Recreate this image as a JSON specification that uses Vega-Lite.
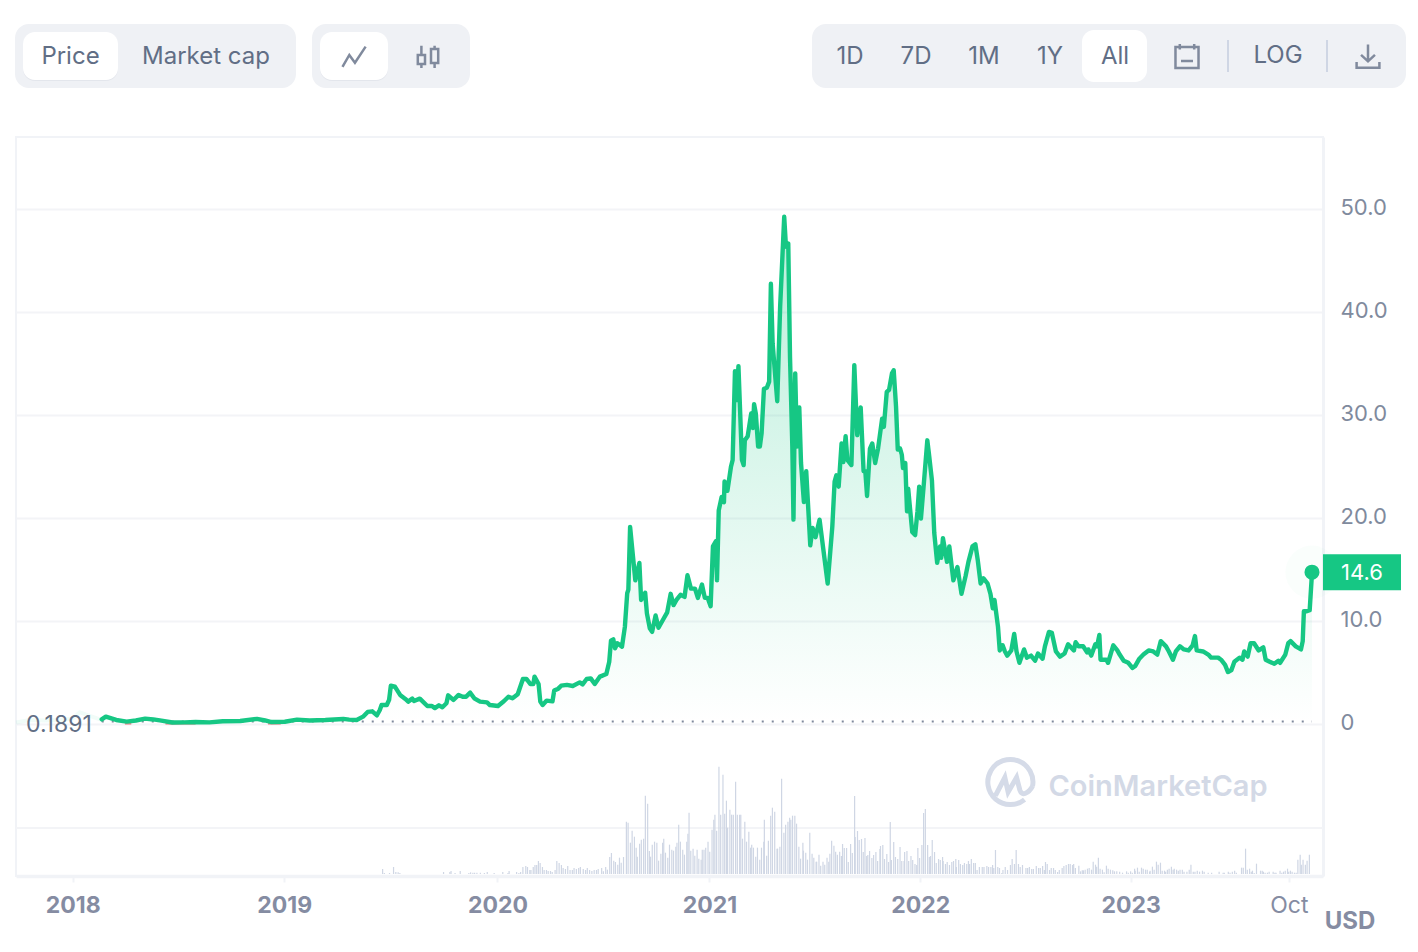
{
"$schema":"https://vega.github.io/schema/vega-lite/v6.json",
"width":1307,"height":739,
"autosize":{"type":"none"},
"padding":{"left":16,"top":137,"right":95,"bottom":76},
"background":"#ffffff",
"config":{"font":"Inter","view":{"stroke":"#F1F3F7","strokeWidth":2},
"text":{"font":"Inter","fontSize":24,"color":"#616E85","fontWeight":400,"baseline":"middle"},
"point":{"stroke":"#808A9D","strokeWidth":2.5,"filled":false,"opacity":1}},
"datasets":{
"price":[
{"date":"2018-02-20","price":0.41},{"date":"2018-02-27","price":0.67},{"date":"2018-03-17","price":0.35},{"date":"2018-04-04","price":0.19},{"date":"2018-04-20","price":0.3},{"date":"2018-05-06","price":0.48},{"date":"2018-05-20","price":0.4},{"date":"2018-06-03","price":0.28},{"date":"2018-06-22","price":0.1},{"date":"2018-07-13","price":0.12},{"date":"2018-08-01","price":0.15},{"date":"2018-08-25","price":0.12},{"date":"2018-09-17","price":0.22},{"date":"2018-10-17","price":0.25},{"date":"2018-11-15","price":0.45},{"date":"2018-11-29","price":0.3},{"date":"2018-12-10","price":0.15},{"date":"2019-01-02","price":0.18},{"date":"2019-01-23","price":0.38},{"date":"2019-02-14","price":0.3},{"date":"2019-03-13","price":0.35},{"date":"2019-04-13","price":0.45},{"date":"2019-04-23","price":0.38},{"date":"2019-05-06","price":0.35},{"date":"2019-05-17","price":0.67},{"date":"2019-05-25","price":1.13},{"date":"2019-06-02","price":1.19},{"date":"2019-06-10","price":0.8},{"date":"2019-06-15","price":1.32},{"date":"2019-06-18","price":1.8},{"date":"2019-06-27","price":1.8},{"date":"2019-07-01","price":2.3},{"date":"2019-07-04","price":3.68},{"date":"2019-07-11","price":3.58},{"date":"2019-07-20","price":2.78},{"date":"2019-07-29","price":2.39},{"date":"2019-08-03","price":2.13},{"date":"2019-08-10","price":2.42},{"date":"2019-08-13","price":2.19},{"date":"2019-08-23","price":2.42},{"date":"2019-09-05","price":1.7},{"date":"2019-09-13","price":1.7},{"date":"2019-09-18","price":1.5},{"date":"2019-09-25","price":1.77},{"date":"2019-10-01","price":1.58},{"date":"2019-10-08","price":1.97},{"date":"2019-10-11","price":2.74},{"date":"2019-10-20","price":2.29},{"date":"2019-10-29","price":2.78},{"date":"2019-11-05","price":2.61},{"date":"2019-11-11","price":2.61},{"date":"2019-11-18","price":3.0},{"date":"2019-11-25","price":2.45},{"date":"2019-12-05","price":2.13},{"date":"2019-12-17","price":2.06},{"date":"2019-12-22","price":1.8},{"date":"2020-01-05","price":1.7},{"date":"2020-01-15","price":2.16},{"date":"2020-01-23","price":2.61},{"date":"2020-01-30","price":2.45},{"date":"2020-02-08","price":2.84},{"date":"2020-02-17","price":4.33},{"date":"2020-02-23","price":4.33},{"date":"2020-03-01","price":3.84},{"date":"2020-03-06","price":3.84},{"date":"2020-03-08","price":4.56},{"date":"2020-03-15","price":3.84},{"date":"2020-03-18","price":2.13},{"date":"2020-03-22","price":1.8},{"date":"2020-03-29","price":2.23},{"date":"2020-04-08","price":2.16},{"date":"2020-04-11","price":3.2},{"date":"2020-04-18","price":3.39},{"date":"2020-04-23","price":3.68},{"date":"2020-05-03","price":3.75},{"date":"2020-05-13","price":3.65},{"date":"2020-05-25","price":4.0},{"date":"2020-05-30","price":3.81},{"date":"2020-06-06","price":4.33},{"date":"2020-06-13","price":4.39},{"date":"2020-06-20","price":3.84},{"date":"2020-06-29","price":4.56},{"date":"2020-07-10","price":4.82},{"date":"2020-07-15","price":6.0},{"date":"2020-07-18","price":8.05},{"date":"2020-07-22","price":8.18},{"date":"2020-07-25","price":7.3},{"date":"2020-07-29","price":7.8},{"date":"2020-08-06","price":7.47},{"date":"2020-08-11","price":9.4},{"date":"2020-08-15","price":12.65},{"date":"2020-08-17","price":13},{"date":"2020-08-20","price":19.1},{"date":"2020-08-25","price":16.2},{"date":"2020-08-29","price":13.9},{"date":"2020-09-05","price":15.6},{"date":"2020-09-08","price":12},{"date":"2020-09-15","price":12.7},{"date":"2020-09-18","price":10.7},{"date":"2020-09-23","price":9.25},{"date":"2020-09-27","price":8.9},{"date":"2020-10-03","price":10.5},{"date":"2020-10-08","price":9.3},{"date":"2020-10-17","price":10.2},{"date":"2020-10-23","price":10.8},{"date":"2020-10-29","price":12.6},{"date":"2020-11-03","price":11.5},{"date":"2020-11-08","price":12.0},{"date":"2020-11-15","price":12.5},{"date":"2020-11-22","price":12.3},{"date":"2020-11-27","price":14.4},{"date":"2020-12-03","price":13.1},{"date":"2020-12-10","price":13.1},{"date":"2020-12-15","price":12.2},{"date":"2020-12-22","price":13.5},{"date":"2020-12-27","price":12.2},{"date":"2021-01-01","price":12.2},{"date":"2021-01-06","price":11.4},{"date":"2021-01-10","price":17.2},{"date":"2021-01-15","price":17.7},{"date":"2021-01-17","price":13.9},{"date":"2021-01-20","price":20.7},{"date":"2021-01-25","price":22},{"date":"2021-01-29","price":21.5},{"date":"2021-01-30","price":23.5},{"date":"2021-02-04","price":22.6},{"date":"2021-02-10","price":24.9},{"date":"2021-02-13","price":25.6},{"date":"2021-02-17","price":34.2},{"date":"2021-02-20","price":31.4},{"date":"2021-02-23","price":34.7},{"date":"2021-03-01","price":25.6},{"date":"2021-03-04","price":25.1},{"date":"2021-03-06","price":27.5},{"date":"2021-03-11","price":27.9},{"date":"2021-03-17","price":30.1},{"date":"2021-03-20","price":28.7},{"date":"2021-03-22","price":31},{"date":"2021-03-25","price":30.1},{"date":"2021-03-29","price":26.9},{"date":"2021-04-01","price":26.9},{"date":"2021-04-04","price":28.2},{"date":"2021-04-08","price":32.5},{"date":"2021-04-13","price":32.6},{"date":"2021-04-17","price":33.2},{"date":"2021-04-20","price":42.7},{"date":"2021-04-23","price":36.9},{"date":"2021-05-01","price":31.3},{"date":"2021-05-06","price":40.5},{"date":"2021-05-13","price":49.2},{"date":"2021-05-16","price":46.3},{"date":"2021-05-20","price":46.6},{"date":"2021-05-23","price":35.6},{"date":"2021-05-27","price":26.9},{"date":"2021-05-29","price":19.8},{"date":"2021-06-01","price":34},{"date":"2021-06-04","price":26.9},{"date":"2021-06-08","price":30.7},{"date":"2021-06-11","price":25.3},{"date":"2021-06-16","price":21.5},{"date":"2021-06-20","price":24.5},{"date":"2021-06-23","price":21.4},{"date":"2021-06-27","price":17.3},{"date":"2021-07-01","price":19},{"date":"2021-07-06","price":18.1},{"date":"2021-07-13","price":19.8},{"date":"2021-07-27","price":13.6},{"date":"2021-08-04","price":19.1},{"date":"2021-08-08","price":23.5},{"date":"2021-08-11","price":24.1},{"date":"2021-08-15","price":23},{"date":"2021-08-20","price":27.2},{"date":"2021-08-23","price":25.4},{"date":"2021-08-27","price":27.9},{"date":"2021-08-30","price":25.6},{"date":"2021-09-06","price":25.1},{"date":"2021-09-11","price":34.8},{"date":"2021-09-16","price":28},{"date":"2021-09-22","price":30.7},{"date":"2021-09-27","price":24.5},{"date":"2021-09-30","price":24.5},{"date":"2021-10-03","price":22.1},{"date":"2021-10-08","price":26.7},{"date":"2021-10-12","price":27.2},{"date":"2021-10-17","price":25.3},{"date":"2021-10-22","price":26.7},{"date":"2021-10-29","price":29.6},{"date":"2021-11-01","price":28.8},{"date":"2021-11-06","price":32.2},{"date":"2021-11-10","price":32.4},{"date":"2021-11-15","price":34},{"date":"2021-11-18","price":34.3},{"date":"2021-11-22","price":30.8},{"date":"2021-11-25","price":26.6},{"date":"2021-11-29","price":26.7},{"date":"2021-12-02","price":26.1},{"date":"2021-12-04","price":24.8},{"date":"2021-12-08","price":25.3},{"date":"2021-12-11","price":20.6},{"date":"2021-12-13","price":22.8},{"date":"2021-12-20","price":18.6},{"date":"2021-12-25","price":18.3},{"date":"2021-12-29","price":20.6},{"date":"2022-01-01","price":23},{"date":"2022-01-04","price":19.9},{"date":"2022-01-09","price":23.3},{"date":"2022-01-15","price":27.5},{"date":"2022-01-18","price":26.1},{"date":"2022-01-23","price":23.6},{"date":"2022-01-27","price":18.5},{"date":"2022-02-01","price":15.6},{"date":"2022-02-06","price":17.2},{"date":"2022-02-08","price":16.1},{"date":"2022-02-11","price":18},{"date":"2022-02-18","price":15.7},{"date":"2022-02-22","price":17.2},{"date":"2022-03-01","price":13.9},{"date":"2022-03-08","price":15.2},{"date":"2022-03-15","price":12.6},{"date":"2022-03-22","price":14.3},{"date":"2022-03-27","price":15.7},{"date":"2022-04-03","price":17.2},{"date":"2022-04-08","price":17.4},{"date":"2022-04-12","price":15.9},{"date":"2022-04-17","price":13.6},{"date":"2022-04-22","price":14.1},{"date":"2022-04-29","price":13.6},{"date":"2022-05-04","price":12.6},{"date":"2022-05-08","price":11.2},{"date":"2022-05-11","price":12},{"date":"2022-05-17","price":9.4},{"date":"2022-05-20","price":7.1},{"date":"2022-05-25","price":7.6},{"date":"2022-05-29","price":7},{"date":"2022-06-02","price":6.6},{"date":"2022-06-09","price":7.1},{"date":"2022-06-14","price":8.7},{"date":"2022-06-18","price":7},{"date":"2022-06-23","price":5.9},{"date":"2022-07-01","price":7.2},{"date":"2022-07-06","price":6.4},{"date":"2022-07-13","price":6.6},{"date":"2022-07-20","price":6.1},{"date":"2022-07-25","price":6.8},{"date":"2022-08-02","price":6.3},{"date":"2022-08-06","price":7.5},{"date":"2022-08-13","price":8.9},{"date":"2022-08-18","price":8.8},{"date":"2022-08-25","price":7},{"date":"2022-09-01","price":6.5},{"date":"2022-09-09","price":6.8},{"date":"2022-09-15","price":7.7},{"date":"2022-09-25","price":7.1},{"date":"2022-09-28","price":7.9},{"date":"2022-10-03","price":7.5},{"date":"2022-10-11","price":7.5},{"date":"2022-10-18","price":6.9},{"date":"2022-10-20","price":7.2},{"date":"2022-10-25","price":6.6},{"date":"2022-11-01","price":7.7},{"date":"2022-11-04","price":7.5},{"date":"2022-11-08","price":8.6},{"date":"2022-11-10","price":6.2},{"date":"2022-11-20","price":6.2},{"date":"2022-11-23","price":5.9},{"date":"2022-12-02","price":7.6},{"date":"2022-12-09","price":7.1},{"date":"2022-12-13","price":6.7},{"date":"2022-12-20","price":6.1},{"date":"2022-12-28","price":5.9},{"date":"2023-01-04","price":5.4},{"date":"2023-01-09","price":5.6},{"date":"2023-01-16","price":6.3},{"date":"2023-01-23","price":6.7},{"date":"2023-02-01","price":7.1},{"date":"2023-02-09","price":7},{"date":"2023-02-16","price":6.7},{"date":"2023-02-22","price":8},{"date":"2023-03-03","price":7.5},{"date":"2023-03-08","price":7},{"date":"2023-03-15","price":6.2},{"date":"2023-03-20","price":7},{"date":"2023-03-27","price":7.5},{"date":"2023-04-03","price":7.2},{"date":"2023-04-11","price":7.1},{"date":"2023-04-18","price":7.6},{"date":"2023-04-22","price":8.5},{"date":"2023-04-25","price":7.1},{"date":"2023-05-06","price":7},{"date":"2023-05-15","price":6.7},{"date":"2023-05-20","price":6.4},{"date":"2023-06-01","price":6.4},{"date":"2023-06-06","price":6.2},{"date":"2023-06-13","price":5.7},{"date":"2023-06-18","price":5},{"date":"2023-06-24","price":5.2},{"date":"2023-06-29","price":6},{"date":"2023-07-08","price":6.4},{"date":"2023-07-13","price":6.2},{"date":"2023-07-16","price":7},{"date":"2023-07-22","price":6.5},{"date":"2023-07-27","price":7.8},{"date":"2023-08-02","price":7.8},{"date":"2023-08-10","price":7.1},{"date":"2023-08-18","price":7.4},{"date":"2023-08-22","price":6.2},{"date":"2023-08-29","price":6},{"date":"2023-09-06","price":5.8},{"date":"2023-09-13","price":6.1},{"date":"2023-09-16","price":5.9},{"date":"2023-09-25","price":6.7},{"date":"2023-09-30","price":7.8},{"date":"2023-10-04","price":8},{"date":"2023-10-13","price":7.5},{"date":"2023-10-22","price":7.2},{"date":"2023-10-25","price":8},{"date":"2023-10-27","price":10.9},{"date":"2023-11-01","price":10.9},{"date":"2023-11-06","price":11},{"date":"2023-11-10","price":14.6}],
"volume":[
{"date":"2019-06-16","volume":0.15},{"date":"2019-06-19","volume":0.03},{"date":"2019-06-28","volume":0.03},{"date":"2019-07-05","volume":0.21},{"date":"2019-07-09","volume":0.06},{"date":"2019-07-13","volume":0.05},{"date":"2019-07-16","volume":0.03},{"date":"2019-09-30","volume":0.06},{"date":"2019-10-11","volume":0.06},{"date":"2019-10-13","volume":0.09},{"date":"2019-10-20","volume":0.03},{"date":"2019-10-29","volume":0.09},{"date":"2019-11-13","volume":0.03},{"date":"2019-11-16","volume":0.05},{"date":"2019-11-20","volume":0.04},{"date":"2019-11-23","volume":0.04},{"date":"2019-11-27","volume":0.04},{"date":"2019-12-03","volume":0.04},{"date":"2019-12-10","volume":0.03},{"date":"2019-12-15","volume":0.06},{"date":"2019-12-27","volume":0.03},{"date":"2020-01-11","volume":0.06},{"date":"2020-01-20","volume":0.03},{"date":"2020-01-22","volume":0.09},{"date":"2020-02-04","volume":0.06},{"date":"2020-02-08","volume":0.03},{"date":"2020-02-11","volume":0.06},{"date":"2020-02-15","volume":0.21},{"date":"2020-02-20","volume":0.24},{"date":"2020-02-23","volume":0.21},{"date":"2020-02-27","volume":0.12},{"date":"2020-02-29","volume":0.12},{"date":"2020-03-04","volume":0.21},{"date":"2020-03-07","volume":0.27},{"date":"2020-03-10","volume":0.27},{"date":"2020-03-13","volume":0.39},{"date":"2020-03-16","volume":0.33},{"date":"2020-03-20","volume":0.21},{"date":"2020-03-23","volume":0.12},{"date":"2020-03-27","volume":0.12},{"date":"2020-03-30","volume":0.09},{"date":"2020-04-03","volume":0.09},{"date":"2020-04-06","volume":0.06},{"date":"2020-04-11","volume":0.12},{"date":"2020-04-14","volume":0.39},{"date":"2020-04-18","volume":0.33},{"date":"2020-04-22","volume":0.27},{"date":"2020-04-25","volume":0.18},{"date":"2020-04-29","volume":0.15},{"date":"2020-05-03","volume":0.24},{"date":"2020-05-07","volume":0.12},{"date":"2020-05-11","volume":0.12},{"date":"2020-05-14","volume":0.18},{"date":"2020-05-18","volume":0.15},{"date":"2020-05-22","volume":0.18},{"date":"2020-05-25","volume":0.21},{"date":"2020-05-30","volume":0.15},{"date":"2020-06-03","volume":0.12},{"date":"2020-06-06","volume":0.18},{"date":"2020-06-10","volume":0.12},{"date":"2020-06-14","volume":0.09},{"date":"2020-06-18","volume":0.12},{"date":"2020-06-22","volume":0.12},{"date":"2020-06-25","volume":0.15},
{"date":"2020-07-01","volume":0.18},{"date":"2020-07-04","volume":0.08},{"date":"2020-07-08","volume":0.21},{"date":"2020-07-11","volume":0.13},{"date":"2020-07-15","volume":0.51},{"date":"2020-07-18","volume":0.63},{"date":"2020-07-22","volume":0.4},{"date":"2020-07-25","volume":0.36},{"date":"2020-07-29","volume":0.28},
{"date":"2020-08-01","volume":0.49},{"date":"2020-08-04","volume":0.34},{"date":"2020-08-08","volume":0.51},{"date":"2020-08-13","volume":1.57},{"date":"2020-08-16","volume":1.54},{"date":"2020-08-20","volume":0.94},{"date":"2020-08-23","volume":1.3},{"date":"2020-08-27","volume":1.12},{"date":"2020-08-30","volume":0.79},
{"date":"2020-09-01","volume":0.52},{"date":"2020-09-05","volume":0.91},{"date":"2020-09-08","volume":1.03},{"date":"2020-09-12","volume":1.06},{"date":"2020-09-15","volume":2.35},{"date":"2020-09-19","volume":2.11},{"date":"2020-09-22","volume":0.69},{"date":"2020-09-24","volume":0.52},{"date":"2020-09-27","volume":0.88},
{"date":"2020-10-01","volume":0.97},{"date":"2020-10-05","volume":0.94},{"date":"2020-10-08","volume":0.4},{"date":"2020-10-12","volume":0.61},{"date":"2020-10-15","volume":0.94},{"date":"2020-10-17","volume":1.06},{"date":"2020-10-20","volume":0.64},{"date":"2020-10-24","volume":0.49},{"date":"2020-10-27","volume":0.88},{"date":"2020-10-31","volume":0.73},
{"date":"2020-11-03","volume":0.7},{"date":"2020-11-07","volume":0.82},{"date":"2020-11-09","volume":0.94},{"date":"2020-11-12","volume":1.48},{"date":"2020-11-15","volume":0.97},{"date":"2020-11-19","volume":0.73},{"date":"2020-11-22","volume":0.58},{"date":"2020-11-26","volume":0.97},{"date":"2020-11-28","volume":1.21},{"date":"2020-11-30","volume":1.84},
{"date":"2020-12-03","volume":0.7},{"date":"2020-12-07","volume":0.76},{"date":"2020-12-10","volume":0.55},{"date":"2020-12-14","volume":0.73},{"date":"2020-12-17","volume":0.46},{"date":"2020-12-21","volume":0.43},{"date":"2020-12-23","volume":0.73},{"date":"2020-12-26","volume":0.73},{"date":"2020-12-29","volume":0.79},
{"date":"2021-01-02","volume":0.97},{"date":"2021-01-05","volume":0.67},{"date":"2021-01-09","volume":1.33},{"date":"2021-01-12","volume":1.63},{"date":"2021-01-14","volume":1.78},{"date":"2021-01-17","volume":1.3},{"date":"2021-01-21","volume":3.22},{"date":"2021-01-24","volume":1.78},{"date":"2021-01-28","volume":2.98},{"date":"2021-01-31","volume":1.81},
{"date":"2021-02-03","volume":2.2},{"date":"2021-02-05","volume":1.39},{"date":"2021-02-09","volume":1.93},{"date":"2021-02-12","volume":1.78},{"date":"2021-02-15","volume":1.78},{"date":"2021-02-19","volume":2.77},{"date":"2021-02-22","volume":1.78},{"date":"2021-02-26","volume":1.78},{"date":"2021-02-28","volume":1.78},
{"date":"2021-03-03","volume":1.06},{"date":"2021-03-07","volume":1.57},{"date":"2021-03-10","volume":0.97},{"date":"2021-03-14","volume":1.27},{"date":"2021-03-17","volume":0.79},{"date":"2021-03-19","volume":0.88},{"date":"2021-03-22","volume":0.79},{"date":"2021-03-26","volume":0.52},{"date":"2021-03-29","volume":0.79},
{"date":"2021-04-02","volume":0.43},{"date":"2021-04-05","volume":0.79},{"date":"2021-04-09","volume":0.97},{"date":"2021-04-10","volume":1.63},{"date":"2021-04-14","volume":0.55},{"date":"2021-04-17","volume":1.0},{"date":"2021-04-21","volume":1.75},{"date":"2021-04-24","volume":1.99},{"date":"2021-04-28","volume":1.87},
{"date":"2021-05-02","volume":0.76},{"date":"2021-05-03","volume":0.76},{"date":"2021-05-07","volume":0.82},{"date":"2021-05-10","volume":2.86},{"date":"2021-05-14","volume":1.24},{"date":"2021-05-17","volume":1.48},{"date":"2021-05-21","volume":1.57},{"date":"2021-05-24","volume":1.69},{"date":"2021-05-26","volume":1.63},{"date":"2021-05-29","volume":1.75},
{"date":"2021-06-02","volume":1.75},{"date":"2021-06-05","volume":1.51},{"date":"2021-06-09","volume":0.82},{"date":"2021-06-12","volume":0.46},{"date":"2021-06-16","volume":0.94},{"date":"2021-06-17","volume":0.7},{"date":"2021-06-21","volume":0.64},{"date":"2021-06-24","volume":0.43},{"date":"2021-06-28","volume":1.24},
{"date":"2021-07-02","volume":0.61},{"date":"2021-07-05","volume":0.49},{"date":"2021-07-09","volume":0.37},{"date":"2021-07-10","volume":0.37},{"date":"2021-07-14","volume":0.58},{"date":"2021-07-17","volume":0.25},{"date":"2021-07-21","volume":0.37},{"date":"2021-07-24","volume":0.28},{"date":"2021-07-28","volume":0.49},{"date":"2021-07-31","volume":0.37},
{"date":"2021-08-02","volume":0.61},{"date":"2021-08-05","volume":1.0},{"date":"2021-08-09","volume":0.85},{"date":"2021-08-12","volume":0.67},{"date":"2021-08-15","volume":0.58},{"date":"2021-08-19","volume":0.67},{"date":"2021-08-22","volume":0.54},{"date":"2021-08-24","volume":0.9},{"date":"2021-08-27","volume":0.78},{"date":"2021-08-31","volume":0.78},
{"date":"2021-09-03","volume":0.36},{"date":"2021-09-07","volume":0.9},{"date":"2021-09-10","volume":0.63},{"date":"2021-09-14","volume":2.34},{"date":"2021-09-15","volume":1.11},{"date":"2021-09-19","volume":1.29},{"date":"2021-09-22","volume":1.02},{"date":"2021-09-26","volume":1.05},{"date":"2021-09-29","volume":0.66},
{"date":"2021-10-02","volume":1.08},{"date":"2021-10-05","volume":0.54},{"date":"2021-10-07","volume":0.57},{"date":"2021-10-10","volume":0.69},{"date":"2021-10-14","volume":0.48},{"date":"2021-10-17","volume":0.57},{"date":"2021-10-21","volume":0.66},{"date":"2021-10-24","volume":0.39},{"date":"2021-10-28","volume":0.75},{"date":"2021-10-29","volume":0.84},
{"date":"2021-11-02","volume":0.87},{"date":"2021-11-05","volume":0.45},{"date":"2021-11-09","volume":0.6},{"date":"2021-11-12","volume":0.36},{"date":"2021-11-15","volume":1.56},{"date":"2021-11-17","volume":0.42},{"date":"2021-11-21","volume":0.96},{"date":"2021-11-24","volume":0.51},{"date":"2021-11-28","volume":0.45},
{"date":"2021-12-02","volume":0.81},{"date":"2021-12-05","volume":0.39},{"date":"2021-12-09","volume":0.39},{"date":"2021-12-10","volume":0.66},{"date":"2021-12-14","volume":0.69},{"date":"2021-12-17","volume":0.39},{"date":"2021-12-21","volume":0.54},{"date":"2021-12-24","volume":0.42},{"date":"2021-12-28","volume":0.3},{"date":"2021-12-31","volume":0.27},
{"date":"2022-01-02","volume":0.78},{"date":"2022-01-05","volume":0.48},{"date":"2022-01-09","volume":0.87},{"date":"2022-01-12","volume":1.83},{"date":"2022-01-15","volume":1.95},{"date":"2022-01-19","volume":0.87},{"date":"2022-01-22","volume":0.51},{"date":"2022-01-24","volume":0.54},{"date":"2022-01-27","volume":1.02},{"date":"2022-01-31","volume":0.66},
{"date":"2022-02-03","volume":0.33},{"date":"2022-02-07","volume":0.45},{"date":"2022-02-10","volume":0.42},{"date":"2022-02-14","volume":0.51},{"date":"2022-02-15","volume":0.39},{"date":"2022-02-19","volume":0.3},{"date":"2022-02-22","volume":0.36},{"date":"2022-02-26","volume":0.27},
{"date":"2022-03-02","volume":0.36},{"date":"2022-03-05","volume":0.39},{"date":"2022-03-09","volume":0.45},{"date":"2022-03-10","volume":0.21},{"date":"2022-03-14","volume":0.42},{"date":"2022-03-17","volume":0.3},{"date":"2022-03-21","volume":0.27},{"date":"2022-03-24","volume":0.33},{"date":"2022-03-28","volume":0.3},{"date":"2022-03-31","volume":0.39},
{"date":"2022-04-02","volume":0.3},{"date":"2022-04-05","volume":0.45},{"date":"2022-04-09","volume":0.33},{"date":"2022-04-12","volume":0.33},{"date":"2022-04-15","volume":0.12},{"date":"2022-04-19","volume":0.21},{"date":"2022-04-24","volume":0.21},{"date":"2022-04-27","volume":0.21},
{"date":"2022-05-02","volume":0.24},{"date":"2022-05-05","volume":0.21},{"date":"2022-05-09","volume":0.21},{"date":"2022-05-12","volume":0.27},{"date":"2022-05-14","volume":0.18},{"date":"2022-05-17","volume":0.72},{"date":"2022-05-21","volume":0.21},{"date":"2022-05-24","volume":0.18},{"date":"2022-05-28","volume":0.03},{"date":"2022-05-30","volume":0.12},
{"date":"2022-06-03","volume":0.21},{"date":"2022-06-07","volume":0.12},{"date":"2022-06-12","volume":0.27},{"date":"2022-06-15","volume":0.45},{"date":"2022-06-19","volume":0.3},{"date":"2022-06-22","volume":0.72},{"date":"2022-06-26","volume":0.3},{"date":"2022-06-29","volume":0.21},
{"date":"2022-07-03","volume":0.27},{"date":"2022-07-09","volume":0.18},{"date":"2022-07-12","volume":0.18},{"date":"2022-07-15","volume":0.21},{"date":"2022-07-19","volume":0.15},{"date":"2022-07-22","volume":0.15},{"date":"2022-07-27","volume":0.24},{"date":"2022-07-31","volume":0.18},
{"date":"2022-08-03","volume":0.18},{"date":"2022-08-07","volume":0.24},{"date":"2022-08-10","volume":0.12},{"date":"2022-08-12","volume":0.36},{"date":"2022-08-15","volume":0.3},{"date":"2022-08-19","volume":0.12},{"date":"2022-08-22","volume":0.18},{"date":"2022-08-26","volume":0.18},{"date":"2022-08-29","volume":0.12},
{"date":"2022-09-02","volume":0.06},{"date":"2022-09-05","volume":0.12},{"date":"2022-09-10","volume":0.18},{"date":"2022-09-13","volume":0.24},{"date":"2022-09-17","volume":0.27},{"date":"2022-09-21","volume":0.3},{"date":"2022-09-24","volume":0.3},{"date":"2022-09-28","volume":0.27},{"date":"2022-09-30","volume":0.3},
{"date":"2022-10-03","volume":0.18},{"date":"2022-10-09","volume":0.25},{"date":"2022-10-12","volume":0.08},{"date":"2022-10-15","volume":0.11},{"date":"2022-10-17","volume":0.11},{"date":"2022-10-20","volume":0.13},{"date":"2022-10-24","volume":0.16},{"date":"2022-10-27","volume":0.18},{"date":"2022-10-31","volume":0.13},
{"date":"2022-11-03","volume":0.37},{"date":"2022-11-07","volume":0.28},{"date":"2022-11-09","volume":0.22},{"date":"2022-11-12","volume":0.49},{"date":"2022-11-15","volume":0.16},{"date":"2022-11-19","volume":0.13},{"date":"2022-11-22","volume":0.05},{"date":"2022-11-26","volume":0.25},{"date":"2022-11-29","volume":0.16},
{"date":"2022-12-03","volume":0.13},{"date":"2022-12-07","volume":0.11},{"date":"2022-12-10","volume":0.08},{"date":"2022-12-14","volume":0.08},{"date":"2022-12-19","volume":0.07},{"date":"2022-12-24","volume":0.04},{"date":"2022-12-31","volume":0.08},
{"date":"2023-01-03","volume":0.04},{"date":"2023-01-07","volume":0.08},{"date":"2023-01-10","volume":0.04},{"date":"2023-01-14","volume":0.16},{"date":"2023-01-15","volume":0.1},{"date":"2023-01-19","volume":0.19},{"date":"2023-01-22","volume":0.07},{"date":"2023-01-26","volume":0.19},{"date":"2023-01-29","volume":0.16},
{"date":"2023-02-02","volume":0.13},{"date":"2023-02-05","volume":0.13},{"date":"2023-02-09","volume":0.07},{"date":"2023-02-10","volume":0.1},{"date":"2023-02-14","volume":0.22},{"date":"2023-02-17","volume":0.13},{"date":"2023-02-21","volume":0.37},{"date":"2023-02-24","volume":0.28},{"date":"2023-02-28","volume":0.34},
{"date":"2023-03-03","volume":0.1},{"date":"2023-03-07","volume":0.1},{"date":"2023-03-09","volume":0.07},{"date":"2023-03-12","volume":0.13},{"date":"2023-03-15","volume":0.16},{"date":"2023-03-19","volume":0.22},{"date":"2023-03-22","volume":0.13},{"date":"2023-03-24","volume":0.16},{"date":"2023-03-28","volume":0.13},{"date":"2023-03-31","volume":0.1},
{"date":"2023-04-03","volume":0.13},{"date":"2023-04-07","volume":0.13},{"date":"2023-04-10","volume":0.07},{"date":"2023-04-15","volume":0.07},{"date":"2023-04-19","volume":0.13},{"date":"2023-04-22","volume":0.28},{"date":"2023-04-26","volume":0.07},{"date":"2023-04-29","volume":0.07},
{"date":"2023-05-03","volume":0.1},{"date":"2023-05-07","volume":0.07},{"date":"2023-05-12","volume":0.1},{"date":"2023-05-15","volume":0.07},{"date":"2023-05-22","volume":0.04},{"date":"2023-05-28","volume":0.04},
{"date":"2023-06-10","volume":0.07},{"date":"2023-06-17","volume":0.04},{"date":"2023-06-19","volume":0.04},{"date":"2023-06-26","volume":0.07},{"date":"2023-06-29","volume":0.04},
{"date":"2023-07-03","volume":0.07},{"date":"2023-07-07","volume":0.1},{"date":"2023-07-10","volume":0.04},{"date":"2023-07-19","volume":0.19},{"date":"2023-07-22","volume":0.19},{"date":"2023-07-26","volume":0.76},{"date":"2023-07-29","volume":0.13},
{"date":"2023-08-02","volume":0.16},{"date":"2023-08-05","volume":0.07},{"date":"2023-08-07","volume":0.1},{"date":"2023-08-10","volume":0.03},{"date":"2023-08-14","volume":0.31},{"date":"2023-08-21","volume":0.1},{"date":"2023-08-24","volume":0.1},{"date":"2023-08-26","volume":0.07},{"date":"2023-08-29","volume":0.04},
{"date":"2023-09-02","volume":0.04},{"date":"2023-09-05","volume":0.07},{"date":"2023-09-12","volume":0.07},{"date":"2023-09-15","volume":0.04},{"date":"2023-09-17","volume":0.04},{"date":"2023-09-24","volume":0.1},{"date":"2023-09-27","volume":0.04},{"date":"2023-09-30","volume":0.07},
{"date":"2023-10-03","volume":0.1},{"date":"2023-10-07","volume":0.16},{"date":"2023-10-09","volume":0.07},{"date":"2023-10-12","volume":0.1},{"date":"2023-10-15","volume":0.07},{"date":"2023-10-19","volume":0.04},{"date":"2023-10-22","volume":0.04},{"date":"2023-10-25","volume":0.43},{"date":"2023-10-29","volume":0.58},{"date":"2023-10-31","volume":0.28},
{"date":"2023-11-03","volume":0.43},{"date":"2023-11-07","volume":0.28},{"date":"2023-11-10","volume":0.4},{"date":"2023-11-14","volume":0.58}]
},
"layer":[
{"data":{"name":"volume"},
"encoding":{
"x":{"field":"date","type":"temporal","scale":{"domain":["2017-09-25","2023-11-29"],"nice":false},"axis":null},
"y":{"field":"volume","type":"quantitative","scale":{"domain":[0,3.3],"range":[737,627],"nice":false,"zero":false},"axis":null}},
"layer":[
{"data":{"values":[{"volume":1.38}]},"mark":{"type":"rule","color":"#F3F4F7","strokeWidth":2},"encoding":{"x":{"value":0},"x2":{"value":1307}}},
{"mark":{"type":"bar","width":1.2,"color":"#CFD6E4"}}
]},
{"data":{"name":"price"},
"encoding":{
"x":{"field":"date","type":"temporal","title":null,"scale":{"domain":["2017-09-25","2023-11-29"],"nice":false},
"axis":{"values":["2018-01-01","2019-01-01","2020-01-04","2021-01-04","2022-01-03","2023-01-01","2023-10-01"],
"labelExpr":"utcmonth(datum.value)==9 ? 'Oct' : ''+utcyear(datum.value)","grid":false,"title":null,
"domainColor":"#F1F3F7","domainWidth":3.5,"tickColor":"#F1F3F7","tickWidth":2,"tickSize":6,
"labelFont":"Inter","labelFontSize":23,"labelColor":"#858CA2","labelPadding":12,"labelFlush":false,"labelOverlap":false,
"labelFontWeight":{"condition":{"test":"utcmonth(datum.value)==9","value":400},"value":700}}},
"y":{"field":"price","type":"quantitative","title":null,"scale":{"domain":[-14.8,56.95],"nice":false,"zero":false},
"axis":{"orient":"right","values":[0,10,20,30,40,50],"labelExpr":"datum.value==0 ? '0' : format(datum.value,'.1f')","grid":true,"gridColor":"#F3F4F7","gridWidth":2,
"domain":true,"domainColor":"#F1F3F7","domainWidth":3,"ticks":false,"title":null,
"labelFont":"Inter","labelFontSize":22,"labelColor":"#808A9D","labelPadding":17,"labelAlign":"left","labelOffset":-1}}},
"layer":[
{"data":{"values":[{"date":"2017-09-25","price":0.1},{"date":"2017-10-19","price":0.35},{"date":"2017-11-15","price":0.3},{"date":"2017-12-11","price":0.35},{"date":"2018-01-01","price":0.5},{"date":"2018-01-13","price":1.1},{"date":"2018-01-23","price":0.9},{"date":"2018-02-02","price":0.7},{"date":"2018-02-17","price":0.4}]},
"mark":{"type":"line","color":"#16C784","strokeWidth":4,"opacity":0.06}},
{"mark":{"type":"area","line":false,"color":{"gradient":"linear","x1":0,"y1":0,"x2":0,"y2":1,"stops":[{"offset":0,"color":"rgba(22,199,132,0.3)"},{"offset":1,"color":"rgba(22,199,132,0)"}]}},
"encoding":{"y2":{"datum":0.1891}}},
{"data":{"values":[{"start":"2018-02-20","end":"2023-11-10","price":0.1891}]},
"mark":{"type":"rule","color":"#808A9D","strokeWidth":2,"strokeDash":[2,8]},
"encoding":{"x":{"field":"start","type":"temporal"},"x2":{"field":"end"}}},
{"data":{"values":[{"date":"2018-04-01","price":0.02,"stretch":"a"},{"date":"2018-04-12","price":0.02,"stretch":"a"},{"date":"2018-06-10","price":0.02,"stretch":"b"},{"date":"2018-08-01","price":0.02,"stretch":"b"},{"date":"2018-12-04","price":0.02,"stretch":"c"},{"date":"2018-12-26","price":0.02,"stretch":"c"}]},
"mark":{"type":"line","color":"#EA3943","strokeWidth":2.5,"opacity":0.6},"encoding":{"detail":{"field":"stretch"}}},
{"mark":{"type":"line","color":"#16C784","strokeWidth":4.4,"strokeJoin":"round","strokeCap":"round"}},
{"data":{"values":[{"date":"2018-02-20","price":0.1891}]},
"mark":{"type":"text","align":"right","dx":-10,"dy":3,"fontSize":23,"color":"#616E85"},
"encoding":{"text":{"field":"price","type":"quantitative","format":".4f"}}},
{"data":{"values":[{"date":"2023-11-10","price":14.6}]},
"layer":[
{"mark":{"type":"point","filled":true,"stroke":null,"fill":"#16C784","size":2827,"opacity":0.025,"shape":"circle","yOffset":-1}},
{"mark":{"type":"point","filled":true,"stroke":null,"fill":"#16C784","size":227,"opacity":1,"shape":"circle","yOffset":-1}},
{"mark":{"type":"rect","width":78,"height":36,"xOffset":50,"yOffset":-1,"color":"#16C784"}},
{"mark":{"type":"text","xOffset":50,"fontSize":22,"color":"#ffffff"},"encoding":{"text":{"field":"price","type":"quantitative","format":".1f"}}}
]}
]},
{"data":{"values":[{"panel":"toolbar"}]},
"layer":[
{"mark":{"type":"rect","width":281,"height":64,"cornerRadius":14,"color":"#EFF1F5"},"encoding":{
"x":{"datum":155.5,"axis":null,"scale":{"domain":[0,1418],"range":[-16,1402],"nice":false,"zero":false}},
"y":{"datum":56,"axis":null,"scale":{"domain":[0,952],"range":[-137,815],"nice":false,"zero":false}}}},
{"mark":{"type":"rect","width":158,"height":64,"cornerRadius":14,"color":"#EFF1F5"},"encoding":{"x":{"datum":391,"axis":null},"y":{"datum":56,"axis":null}}},
{"mark":{"type":"rect","width":594,"height":64,"cornerRadius":14,"color":"#EFF1F5"},"encoding":{"x":{"datum":1109,"axis":null},"y":{"datum":56,"axis":null}}},
{"mark":{"type":"rect","width":95,"height":48,"cornerRadius":12,"color":"#E3E6EC"},"encoding":{"x":{"datum":70.5,"axis":null},"y":{"datum":57,"axis":null}}},
{"mark":{"type":"rect","width":68,"height":48,"cornerRadius":12,"color":"#E3E6EC"},"encoding":{"x":{"datum":354,"axis":null},"y":{"datum":57,"axis":null}}},
{"mark":{"type":"rect","width":95,"height":48,"cornerRadius":12,"color":"#ffffff"},"encoding":{"x":{"datum":70.5,"axis":null},"y":{"datum":56,"axis":null}}},
{"mark":{"type":"rect","width":68,"height":48,"cornerRadius":12,"color":"#ffffff"},"encoding":{"x":{"datum":354,"axis":null},"y":{"datum":56,"axis":null}}},
{"mark":{"type":"rect","width":65,"height":52,"cornerRadius":12,"color":"#ffffff"},"encoding":{"x":{"datum":1114.5,"axis":null},"y":{"datum":56,"axis":null}}},
{"mark":{"type":"rect","width":2,"height":32,"color":"#CFD6E4"},"encoding":{"x":{"datum":1228,"axis":null},"y":{"datum":56,"axis":null}}},
{"mark":{"type":"rect","width":2,"height":32,"color":"#CFD6E4"},"encoding":{"x":{"datum":1327,"axis":null},"y":{"datum":56,"axis":null}}},
{"mark":{"type":"text","text":"Price"},"encoding":{"x":{"datum":70.5,"axis":null},"y":{"datum":57,"axis":null}}},
{"mark":{"type":"text","text":"Market cap"},"encoding":{"x":{"datum":206,"axis":null},"y":{"datum":57,"axis":null}}},
{"mark":{"type":"text","text":"1D"},"encoding":{"x":{"datum":850,"axis":null},"y":{"datum":57,"axis":null}}},
{"mark":{"type":"text","text":"7D"},"encoding":{"x":{"datum":916,"axis":null},"y":{"datum":57,"axis":null}}},
{"mark":{"type":"text","text":"1M"},"encoding":{"x":{"datum":984,"axis":null},"y":{"datum":57,"axis":null}}},
{"mark":{"type":"text","text":"1Y"},"encoding":{"x":{"datum":1050,"axis":null},"y":{"datum":57,"axis":null}}},
{"mark":{"type":"text","text":"All"},"encoding":{"x":{"datum":1115,"axis":null},"y":{"datum":57,"axis":null}}},
{"mark":{"type":"text","text":"LOG"},"encoding":{"x":{"datum":1278,"axis":null},"y":{"datum":56,"axis":null}}},
{"mark":{"type":"point","size":576,"shape":"M-0.96 0.83L-0.39 -0.17L0.08 0.48L0.97 -0.86"},"encoding":{"x":{"datum":354,"axis":null},"y":{"datum":57,"axis":null}}},
{"mark":{"type":"point","size":576,"strokeWidth":2.5,"shape":"M-0.85 -0.17H-0.25V0.58H-0.85ZM-0.55 -0.94V-0.17M-0.55 0.58V0.92M0.25 -0.67H0.85V0.5H0.25ZM0.55 -0.94V-0.67M0.55 0.5V0.92"},"encoding":{"x":{"datum":428,"axis":null},"y":{"datum":57,"axis":null}}},
{"mark":{"type":"point","size":576,"strokeWidth":2.5,"shape":"M-0.96 -0.75H0.96V1H-0.96ZM-0.6 -1V-0.55M0.6 -1V-0.55M-0.5 0.42H0.5"},"encoding":{"x":{"datum":1187,"axis":null},"y":{"datum":56,"axis":null}}},
{"mark":{"type":"point","size":576,"strokeWidth":2.5,"shape":"M0 -0.95V0.4M-0.58 -0.1L0 0.45L0.58 -0.1M-0.95 0.5V0.97H0.95V0.5"},"encoding":{"x":{"datum":1368,"axis":null},"y":{"datum":56,"axis":null}}},
{"mark":{"type":"point","size":2209,"strokeWidth":5,"stroke":"#D5DBE8","shape":"M0.62 0.62A0.96 0.96 0 1 1 0.96 0.05M-0.62 0.45L-0.22 -0.32L-0.08 0.3L0.28 -0.32L0.42 0.22C0.5 0.5 0.8 0.35 0.96 0.05"},"encoding":{"x":{"datum":1010,"axis":null},"y":{"datum":785,"axis":null}}},
{"mark":{"type":"text","text":"CoinMarketCap","fontSize":29,"fontWeight":600,"color":"#D3D9E6"},"encoding":{"x":{"datum":1158,"axis":null},"y":{"datum":787,"axis":null}}},
{"mark":{"type":"text","text":"USD","fontSize":24,"fontWeight":700,"color":"#858CA2"},"encoding":{"x":{"datum":1350,"axis":null},"y":{"datum":922,"axis":null}}}
]}
],
"resolve":{"scale":{"x":"independent","y":"independent"}}
}
